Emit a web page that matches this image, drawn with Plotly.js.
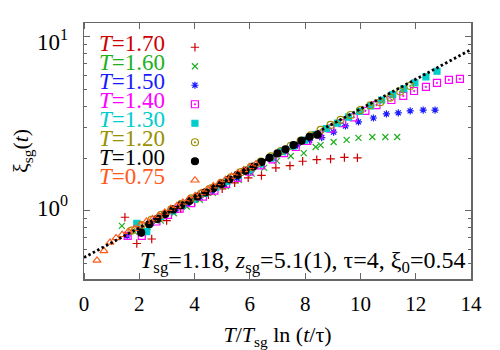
<!DOCTYPE html>
<html>
<head>
<meta charset="utf-8">
<script src="https://cdn.plot.ly/plotly-3.0.1.min.js"></script>
<style>
  html, body { margin: 0; padding: 0; background: #fff; }
  #chart { width: 500px; height: 350px; }
</style>
</head>
<body>
<div id="chart"></div>
<script>
// temperatures, in legend order
const temps = ['1.70', '1.60', '1.50', '1.40', '1.30', '1.20', '1.00', '0.75']
const colors = ['#cc0000', '#1fb01f', '#1a1aff', '#ff00ff', '#00cccc', '#9a9000', '#000000', '#ff5a1a']
const symbols = ['cross-thin', 'x-thin', 'asterisk', 'square-open-dot', 'square', 'circle-open-dot', 'circle', 'triangle-up-open']

// xi_sg(t) against T/Tsg ln(t/tau), one pair of arrays per temperature
const x170 = [1.48, 1.91, 2.45, 2.99, 3.5, 4.0, 4.5, 5.0, 5.45, 5.94, 6.42, 6.94, 7.45, 7.91, 8.42, 8.92, 9.42, 9.89]
const y170 = [0.92, 0.65, 0.69, 0.88, 1.03, 1.13, 1.24, 1.34, 1.45, 1.55, 1.60, 1.77, 1.82, 1.93, 1.97, 1.99, 2.03, 2.02]

const x160 = [1.37, 1.82, 2.3, 2.78, 3.25, 3.72, 4.19, 4.66, 5.13, 5.6, 6.07, 6.52, 6.98, 7.48, 7.95, 8.38, 8.56, 9.03, 9.5, 9.93, 10.43, 10.9, 11.33]
const y160 = [0.82, 0.76, 0.81, 0.88, 0.97, 1.06, 1.16, 1.27, 1.39, 1.51, 1.64, 1.77, 1.94, 2.07, 2.15, 2.33, 2.39, 2.49, 2.56, 2.63, 2.66, 2.66, 2.66]

const x150 = [1.56, 2.0, 2.44, 2.88, 3.32, 3.76, 4.2, 4.64, 5.08, 5.52, 5.96, 6.4, 6.84, 7.28, 7.72, 8.16, 8.6, 9.03, 9.46, 9.93, 10.47, 10.94, 11.37, 11.8, 12.27, 12.7]
const y150 = [0.72, 0.78, 0.85, 0.93, 1.01, 1.10, 1.20, 1.31, 1.42, 1.55, 1.69, 1.84, 2.01, 2.19, 2.39, 2.55, 2.64, 2.84, 3.08, 3.25, 3.42, 3.61, 3.66, 3.76, 3.80, 3.80]

const x140 = [1.58, 2.09, 2.62, 3.04, 3.46, 3.88, 4.3, 4.72, 5.14, 5.56, 5.98, 6.4, 6.82, 7.24, 7.66, 8.08, 8.5, 8.92, 9.34, 9.76, 10.18, 10.58, 11.12, 11.55, 11.94, 12.37, 12.77, 13.2, 13.6]
const y140 = [0.72, 0.72, 0.87, 0.95, 1.03, 1.11, 1.21, 1.31, 1.43, 1.55, 1.68, 1.83, 1.98, 2.15, 2.33, 2.53, 2.75, 2.97, 3.20, 3.45, 3.76, 4.06, 4.34, 4.58, 4.89, 5.16, 5.44, 5.66, 5.74]

const x130 = [1.91, 2.27, 2.77, 3.17, 3.57, 3.97, 4.37, 4.77, 5.17, 5.57, 5.97, 6.37, 6.77, 7.17, 7.57, 7.97, 8.37, 8.77, 9.17, 9.57, 9.97, 10.37, 10.77, 11.17, 11.57, 11.97, 12.37, 12.77]
const y130 = [0.85, 0.76, 0.93, 1.00, 1.08, 1.17, 1.26, 1.37, 1.48, 1.60, 1.73, 1.87, 2.02, 2.19, 2.36, 2.55, 2.75, 2.97, 3.20, 3.46, 3.73, 4.02, 4.34, 4.66, 5.03, 5.45, 5.90, 6.35]

const x120 = [1.72, 2.08, 2.44, 2.8, 3.16, 3.52, 3.88, 4.24, 4.6, 4.96, 5.32, 5.68, 6.04, 6.4, 6.76, 7.12, 7.48, 7.84, 8.2, 8.56, 8.92, 9.28, 9.64, 10.0, 10.36, 10.72, 11.08, 11.44, 11.8]
const y120 = [0.77, 0.83, 0.89, 0.95, 1.02, 1.10, 1.18, 1.26, 1.35, 1.45, 1.56, 1.67, 1.79, 1.92, 2.06, 2.21, 2.37, 2.54, 2.72, 2.92, 3.12, 3.34, 3.56, 3.80, 4.05, 4.22, 4.48, 4.86, 5.23]

const x100 = [2.07, 2.36, 2.65, 2.94, 3.23, 3.52, 3.81, 4.1, 4.39, 4.68, 4.97, 5.26, 5.55, 5.84, 6.13, 6.42, 6.71, 7.0, 7.29, 7.58, 7.87, 8.16, 8.45]
const y100 = [0.75, 0.84, 0.90, 0.96, 1.02, 1.08, 1.14, 1.21, 1.28, 1.35, 1.43, 1.52, 1.61, 1.70, 1.80, 1.91, 2.02, 2.14, 2.26, 2.39, 2.53, 2.67, 2.74]

const x075 = [0.47, 0.72, 0.94, 1.16, 1.38, 1.6, 1.82, 2.04, 2.26, 2.48, 2.7, 2.92, 3.14, 3.36, 3.58, 3.8, 4.02, 4.24, 4.46, 4.68, 4.9, 5.12, 5.34, 5.56, 5.78, 6.0, 6.22]
const y075 = [0.52, 0.59, 0.66, 0.70, 0.73, 0.76, 0.79, 0.83, 0.87, 0.90, 0.94, 0.98, 1.03, 1.07, 1.12, 1.17, 1.22, 1.27, 1.33, 1.39, 1.45, 1.51, 1.58, 1.65, 1.72, 1.79, 1.86]

// fitted straight line (xi0 = 0.54 at x = 0)
const fitX = [0, 14]
const fitY = [0.54, 8.46]

// ticks
const xTicks = [0, 2, 4, 6, 8, 10, 12, 14]
const yTicks = [1, 10]
const yTickText = ['10<sup>0</sup>', '10<sup>1</sup>']
const yMinor = [0.5, 0.6, 0.7, 0.8, 0.9, 2, 3, 4, 5, 6, 7, 8, 9]

const xs = [x170, x160, x150, x140, x130, x120, x100, x075]
const ys = [y170, y160, y150, y140, y130, y120, y100, y075]
const sizes = [6, 6, 6, 7, 6, 7, 7, 7]

const serif = 'Liberation Serif, Times New Roman, serif'

let traces = []
for (let i = 0; i < temps.length; i++) {
    traces.push({
        type: 'scatter',
        mode: 'markers',
        name: '',
        x: xs[i],
        y: ys[i],
        marker: {
            symbol: symbols[i],
            size: sizes[i],
            color: colors[i],
            line: {color: colors[i], width: 1.2},
        },
    })
}
traces.push({
    type: 'scatter',
    mode: 'lines',
    x: fitX,
    y: fitY,
    showlegend: false,
    line: {color: '#000', width: 2.8, dash: '2.5px,2.5px'},
})

// legend text sits left of the symbols, as in the original
let annotations = []
const rowTop = 0.92
const rowStep = 0.0741
for (let i = 0; i < temps.length; i++) {
    annotations.push({
        xref: 'paper', yref: 'paper',
        x: 0.2145, y: rowTop - i*rowStep,
        xanchor: 'right', yanchor: 'middle',
        text: '<i>T</i>=' + temps[i],
        showarrow: false,
        font: {family: serif, size: 23, color: colors[i]},
    })
}
annotations.push({
    xref: 'paper', yref: 'paper',
    x: 0.99, y: 0.068,
    xanchor: 'right', yanchor: 'middle',
    text: '<i>T</i><sub>sg</sub>=1.18, <i>z</i><sub>sg</sub>=5.1(1), τ=4, ξ<sub>0</sub>=0.54',
    showarrow: false,
    font: {family: serif, size: 24, color: '#000'},
})
// y axis title
annotations.push({
    xref: 'paper', yref: 'paper',
    x: -0.16, y: 0.5,
    xanchor: 'center', yanchor: 'middle',
    textangle: -90,
    text: 'ξ<sub>sg</sub>(<i>t</i>)',
    showarrow: false,
    font: {family: serif, size: 22, color: '#000'},
})
// decade labels of the log axis, set a little away from the frame
for (let i = 0; i < yTicks.length; i++) {
    annotations.push({
        xref: 'paper', yref: 'y',
        x: -0.036, y: Math.log10(yTicks[i]),
        xanchor: 'right', yanchor: 'middle',
        yshift: i === 0 ? 4 : -4,
        text: yTickText[i],
        showarrow: false,
        font: {family: serif, size: 23, color: '#000'},
    })
}

const layout = {
    width: 500,
    height: 350,
    margin: {l: 84, r: 29, t: 23, b: 71},
    paper_bgcolor: '#fff',
    plot_bgcolor: '#fff',
    font: {family: serif, color: '#000'},
    showlegend: true,
    legend: {
        x: 0.235, y: 0.962,
        xanchor: 'left', yanchor: 'top',
        bgcolor: 'rgba(0,0,0,0)',
        font: {size: 12},
        tracegroupgap: 0,
    },
    xaxis: {
        range: [0, 14],
        showline: true, linecolor: '#666', linewidth: 1.5,
        mirror: 'ticks',
        showgrid: false, zeroline: false,
        // invisible outside ticks push the labels down; the visible ticks are drawn inside as minor ticks
        tickvals: xTicks,
        ticks: 'outside', ticklen: 5, tickcolor: 'rgba(0,0,0,0)',
        minor: {tickvals: xTicks, ticks: 'inside', ticklen: 6, tickcolor: '#666'},
        tickfont: {family: serif, size: 21, color: '#000'},
        title: {text: '<i>T</i>/<i>T</i><sub>sg</sub> ln (<i>t</i>/τ)', font: {family: serif, size: 22}, standoff: 13},
    },
    yaxis: {
        type: 'log',
        range: [-0.391, 1.08],
        showline: true, linecolor: '#666', linewidth: 1.5,
        mirror: 'ticks',
        showgrid: false, zeroline: false,
        tickvals: yTicks,
        showticklabels: false,
        ticks: 'inside', ticklen: 6, tickcolor: '#666',
        minor: {tickvals: yMinor, ticks: 'inside', ticklen: 3, tickcolor: '#666'},
    },
    annotations: annotations,
}

Plotly.newPlot('chart', traces, layout, {staticPlot: true})
</script>
</body>
</html>
